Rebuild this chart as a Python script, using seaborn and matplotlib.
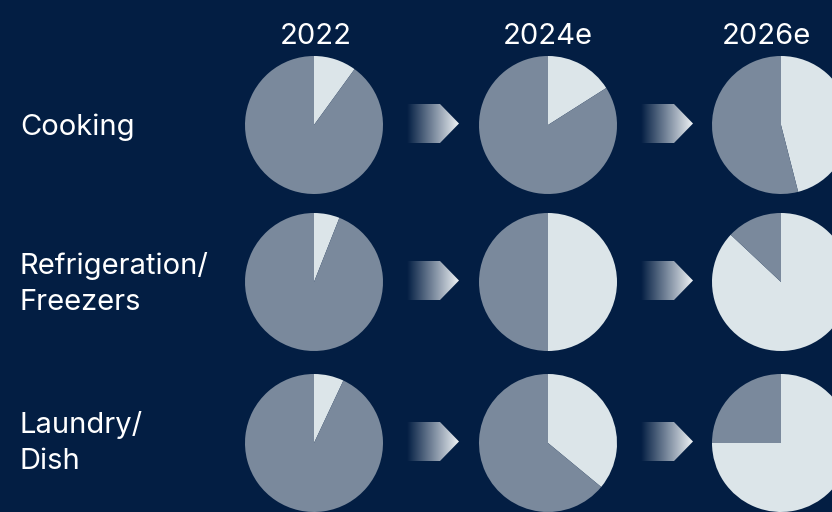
import numpy as np
import matplotlib
matplotlib.use("Agg")
import matplotlib.pyplot as plt
from matplotlib.colors import LinearSegmentedColormap
from matplotlib.patches import Polygon
import seaborn as sns

# Share of the market (light slice) per category and year
years = ["2022", "2024e", "2026e"]
categories = ["Cooking", "Refrigeration/\nFreezers", "Laundry/\nDish"]
cooking_share = [0.10, 0.16, 0.46]
refrigeration_share = [0.06, 0.50, 0.87]
laundry_share = [0.07, 0.36, 0.75]
shares = [cooking_share, refrigeration_share, laundry_share]

BG = "#031E43"
LIGHT = "#DCE5E9"
DARK = "#7A899C"
TEXT = "#FFFFFF"

sns.set_theme(style="white")
plt.rcParams["font.family"] = ["Inter", "DejaVu Sans"]

W, H = 832, 512
fig = plt.figure(figsize=(W / 100, H / 100), dpi=100, facecolor=BG)
ax = fig.add_axes([0, 0, 1, 1])
ax.set_facecolor(BG)

col_x = [314, 548, 781]
row_y = [125, 282, 443]
radius = 69

for r, row in enumerate(shares):
    for c, share in enumerate(row):
        ax.pie([share, 1 - share], colors=[LIGHT, DARK], startangle=90,
               counterclock=False, center=(col_x[c], H - row_y[r]),
               radius=radius, frame=True,
               wedgeprops=dict(linewidth=0, antialiased=True))

ax.set_xlim(0, W)
ax.set_ylim(0, H)
ax.set_aspect("equal")
ax.axis("off")

# Gradient chevron arrows between the year columns
arrow_cmap = LinearSegmentedColormap.from_list("fade", [BG, "#EEF2F5"])
grad = np.linspace(0, 1, 256).reshape(1, -1)
for r in range(3):
    for c in range(2):
        x0 = col_x[c] + 93
        yc = H - row_y[r] + 1.5
        hh = 19.5
        pts = [(x0, yc + hh), (x0 + 33, yc + hh), (x0 + 52, yc),
               (x0 + 33, yc - hh), (x0, yc - hh)]
        poly = Polygon(pts, closed=True, facecolor="none", edgecolor="none")
        ax.add_patch(poly)
        im = ax.imshow(grad, cmap=arrow_cmap, aspect="auto",
                       extent=(x0, x0 + 52, yc - hh, yc + hh),
                       interpolation="bilinear", zorder=2)
        im.set_clip_path(poly)

ax.set_xlim(0, W)
ax.set_ylim(0, H)

# Year headers
year_x = [316, 548, 766]
for x, label in zip(year_x, years):
    ax.text(x, H - 36, label, color=TEXT, fontsize=21, ha="center",
            va="center", fontweight="normal")

# Category labels
label_y = [127, 284, 443]
for y, label in zip(label_y, categories):
    ax.text(20, H - y, label, color=TEXT, fontsize=21, ha="left",
            va="center", linespacing=1.4, fontweight="normal")

fig.savefig("out.png", dpi=100, facecolor=BG)
